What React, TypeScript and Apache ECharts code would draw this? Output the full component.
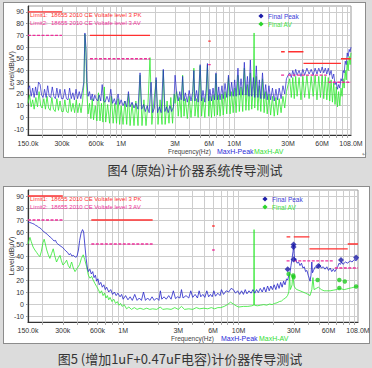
import React, { useEffect, useRef } from 'react';
import * as echarts from 'echarts';

// ---------- axes ----------
const xLabelValues = [0.15, 0.3, 0.6, 1, 3, 6, 10, 30, 60, 108];
const xLabelTexts = ['150.0k', '300k', '600k', '1M', '3M', '6M', '10M', '30M', '60M', '108.0M'];
const xGridValues = [0.2, 0.3, 0.4, 0.5, 0.6, 0.7, 0.8, 0.9, 1, 2, 3, 4, 5, 6, 7, 8, 9, 10, 20, 30, 40, 50, 60, 70, 80, 90, 100];
const yLabelValues = [-10, 0, 10, 20, 30, 40, 50, 60, 70, 80, 90];

// ---------- limits [fromMHz, toMHz, dBuV] ----------
const pkLimit = [[0.15, 0.3, 90], [0.53, 1.8, 70], [5.9, 6.2, 65], [26, 28, 56], [30, 41, 56], [41, 88, 46], [88, 108, 50]];
const avLimit = [[0.15, 0.3, 70], [0.53, 1.8, 50], [5.9, 6.2, 45], [26, 28, 36], [30, 66, 36], [68, 108, 30]];

// ---------- Fig 4 (original) ----------
const fig4Peak = [
  [0.150, 24], [0.155, 27], [0.160, 18], [0.165, 25], [0.170, 17], [0.175, 26], [0.180, 19], [0.186, 30], [0.192, 28], [0.198, 19],
  [0.204, 17], [0.210, 24], [0.217, 17], [0.224, 27], [0.231, 18], [0.238, 17], [0.246, 26], [0.254, 18], [0.262, 16], [0.270, 25],
  [0.279, 17], [0.288, 24], [0.297, 16], [0.307, 16], [0.317, 24], [0.328, 16], [0.339, 15], [0.350, 25], [0.362, 16], [0.374, 21],
  [0.386, 15], [0.399, 24], [0.412, 16], [0.426, 22], [0.440, 16], [0.455, 23], [0.468, 30], [0.478, 72], [0.488, 60], [0.498, 30],
  [0.510, 18], [0.525, 22], [0.540, 15], [0.555, 20], [0.570, 14], [0.585, 19],
  [0.60, 16], [0.62, 14], [0.64, 19], [0.66, 14], [0.68, 28], [0.70, 14], [0.72, 13], [0.75, 18], [0.78, 13], [0.81, 24],
  [0.84, 12], [0.87, 16], [0.90, 11], [0.94, 20], [0.97, 11], [1.00, 15], [1.04, 10], [1.08, 14], [1.12, 9], [1.16, 22],
  [1.20, 9], [1.25, 13], [1.30, 8], [1.35, 12], [1.41, 7], [1.47, 38], [1.52, 7], [1.58, 11], [1.64, 5], [1.70, 10],
  [1.77, 4], [1.84, 30], [1.90, 4], [1.97, 8], [2.04, 34], [2.10, 4], [2.18, 9], [2.26, 4], [2.36, 41], [2.44, 5],
  [2.52, 9], [2.61, 4], [2.70, 10], [2.80, 5], [2.90, 9], [2.95, 20], [3.0, 36],
  [3.1, 21], [3.2, 14], [3.3, 22], [3.4, 15], [3.5, 35], [3.6, 14], [3.7, 21], [3.85, 13], [4.0, 23], [4.15, 14],
  [4.3, 22], [4.4, 40], [4.5, 14], [4.65, 23], [4.8, 13], [5.0, 45], [5.15, 14], [5.3, 23], [5.5, 13], [5.65, 24],
  [5.8, 46], [5.95, 14], [6.1, 24], [6.3, 14], [6.5, 25], [6.7, 15], [6.9, 38], [7.1, 15], [7.3, 26], [7.5, 15],
  [7.8, 27], [8.0, 16], [8.3, 29], [8.6, 17], [8.9, 36], [9.2, 18], [9.5, 30], [9.8, 18], [10.1, 32], [10.4, 18],
  [10.8, 42], [11.1, 19], [11.5, 33], [11.9, 19], [12.3, 47], [12.7, 19], [13.1, 35], [13.5, 18], [13.9, 49], [14.3, 18],
  [14.8, 34], [15.2, 17], [15.7, 44], [16.2, 17], [16.7, 32], [17.2, 16], [17.8, 38], [18.4, 16], [19.0, 28], [19.6, 15],
  [20.3, 27], [21.0, 15], [21.8, 25], [22.6, 14], [23.4, 24], [24.2, 15], [25.0, 25], [26.0, 16], [27.0, 27], [28.0, 20],
  [29.0, 33], [30.0, 36],
  [31, 38], [32, 34], [33, 40], [34, 35], [35, 41], [36, 36], [37.5, 40], [39, 35], [40.5, 41], [42, 36],
  [44, 42], [46, 37], [48, 41], [50, 36], [52, 42], [54, 37], [56, 42], [58, 38], [60, 43], [62, 38],
  [64, 42], [66, 37], [68, 42], [70, 36], [72, 40], [74, 33], [76, 37], [78, 28], [80, 30], [82, 24],
  [84, 28], [86, 25], [88, 33], [90, 31], [92, 40], [94, 38], [96, 48], [98, 45], [100, 55], [102, 52],
  [104, 58], [106, 56], [108, 60]
];
const fig4Avg = [
  [0.150, 12], [0.155, 19], [0.160, 9], [0.165, 15], [0.170, 7], [0.176, 17], [0.182, 9], [0.188, 22], [0.194, 10], [0.200, 8],
  [0.207, 16], [0.214, 7], [0.221, 18], [0.228, 8], [0.236, 6], [0.244, 17], [0.252, 7], [0.261, 5], [0.270, 16], [0.279, 6],
  [0.288, 14], [0.298, 5], [0.308, 5], [0.318, 15], [0.329, 5], [0.340, 4], [0.351, 16], [0.363, 5], [0.375, 12], [0.388, 4],
  [0.401, 15], [0.414, 4], [0.428, 12], [0.442, 4], [0.456, 14], [0.468, 28], [0.478, 71], [0.488, 55], [0.498, 20], [0.510, 3],
  [0.525, 12], [0.54, -1], [0.555, 16], [0.57, -2], [0.59, 10], [0.61, -3], [0.63, 21], [0.65, -3], [0.67, 12], [0.69, -4],
  [0.71, 26], [0.73, -4], [0.76, 11], [0.79, -5], [0.82, 18], [0.85, -5], [0.88, 12], [0.91, -5], [0.94, 16], [0.97, -6],
  [1.00, 10], [1.04, -6], [1.08, 14], [1.12, -6], [1.16, 20], [1.20, -7], [1.25, 12], [1.30, -7], [1.35, 14], [1.41, -7],
  [1.47, 36], [1.53, -7], [1.59, 15], [1.66, -7], [1.73, 13], [1.80, 51], [1.87, -6], [1.95, 14], [2.04, 32], [2.12, -6],
  [2.21, 15], [2.30, -6], [2.36, 40], [2.45, -6], [2.55, 14], [2.65, -5], [2.75, 17], [2.85, -5], [2.95, 20], [3.0, 12],
  [3.1, 22], [3.2, 1], [3.3, 17], [3.4, 0], [3.5, 36], [3.6, 1], [3.7, 16], [3.85, -1], [4.0, 18], [4.15, 0],
  [4.3, 17], [4.4, 42], [4.5, 1], [4.65, 16], [4.8, 0], [5.0, 44], [5.15, 1], [5.3, 17], [5.5, 0], [5.65, 18],
  [5.8, 45], [5.95, 1], [6.1, 18], [6.3, 0], [6.5, 19], [6.7, 1], [6.9, 37], [7.1, 2], [7.3, 19], [7.5, 1],
  [7.8, 20], [8.0, 2], [8.3, 22], [8.6, 3], [8.9, 34], [9.2, 3], [9.5, 22], [9.8, 4], [10.1, 25], [10.4, 4],
  [10.8, 36], [11.1, 5], [11.5, 26], [11.9, 5], [12.3, 42], [12.7, 6], [13.1, 28], [13.5, 6], [13.9, 38], [14.3, 7],
  [14.8, 26], [15.0, 72], [15.2, 8], [15.7, 35], [16.2, 6], [16.7, 27], [17.2, 5], [17.8, 33], [18.4, 4], [19.0, 22],
  [19.6, 3], [20.3, 20], [21.0, 2], [21.8, 18], [22.6, 1], [23.4, 17], [24.2, 2], [25.0, 16], [26.0, 4], [27.0, 18],
  [28.0, 8], [29.0, 22], [30.0, 28],
  [31, 33], [32, 17], [33, 34], [34, 16], [35, 35], [36, 18], [37.5, 34], [39, 15], [40.5, 35], [42, 17],
  [44, 36], [46, 16], [48, 35], [50, 18], [52, 36], [54, 15], [56, 35], [58, 17], [60, 36], [62, 16],
  [64, 35], [66, 15], [68, 34], [70, 14], [72, 32], [74, 13], [76, 30], [78, 11], [80, 26], [82, 9],
  [84, 22], [86, 10], [88, 25], [90, 18], [92, 33], [94, 25], [96, 40], [98, 32], [100, 48], [102, 40],
  [104, 52], [106, 45], [108, 55]
];

// ---------- Fig 5 (with 1uF + 0.47uF) ----------
const fig5Peak = [
  [0.150, 68], [0.155, 68], [0.160, 67.5], [0.165, 67], [0.170, 66.5], [0.175, 65.5], [0.180, 65], [0.185, 64], [0.190, 63.5], [0.195, 62.5],
  [0.200, 61.5], [0.207, 60], [0.214, 59], [0.221, 58], [0.228, 56.5], [0.236, 55.5], [0.244, 54], [0.252, 52.5], [0.260, 53], [0.265, 51],
  [0.272, 50], [0.280, 49], [0.290, 48], [0.300, 47], [0.310, 45.5], [0.320, 44], [0.330, 43], [0.340, 41], [0.350, 42], [0.360, 40],
  [0.372, 40.5], [0.385, 39], [0.398, 39.5], [0.410, 45], [0.420, 53], [0.432, 59], [0.445, 62], [0.455, 60], [0.465, 50], [0.478, 38],
  [0.490, 30], [0.500, 27], [0.515, 29], [0.530, 25], [0.545, 27], [0.56, 22], [0.575, 24], [0.59, 19], [0.605, 21], [0.62, 16],
  [0.64, 18], [0.66, 14], [0.68, 16], [0.70, 12], [0.72, 14], [0.75, 10], [0.78, 12], [0.81, 8], [0.84, 10], [0.87, 7],
  [0.90, 9], [0.94, 6], [0.97, 8], [1.0, 4], [1.05, 7], [1.1, 3.5], [1.15, 6], [1.2, 3], [1.26, 8], [1.32, 3],
  [1.38, 5], [1.44, 3], [1.5, 10], [1.56, 3], [1.63, 5], [1.7, 3], [1.78, 6], [1.86, 3], [1.95, 5], [2.04, 3],
  [2.1, 11], [2.16, 4], [2.26, 6], [2.36, 4], [2.48, 7], [2.6, 4], [2.72, 11], [2.84, 4.5], [2.96, 6], [3.1, 5],
  [3.2, 12], [3.3, 5], [3.5, 7], [3.7, 5], [3.85, 11], [4.0, 5.5], [4.2, 8], [4.4, 5], [4.55, 11], [4.7, 6],
  [4.9, 8], [5.1, 5.5], [5.3, 11], [5.5, 6], [5.7, 8], [5.9, 6], [6.1, 11], [6.3, 6.5], [6.6, 9], [6.9, 7],
  [7.1, 12], [7.4, 8], [7.8, 11], [8.2, 10], [8.6, 13], [9.0, 12], [9.4, 9], [9.8, 11], [10.2, 8], [10.6, 11],
  [11.0, 8], [11.4, 12], [11.8, 8.5], [12.3, 11], [12.8, 9], [13.3, 12], [13.8, 9], [14.3, 12], [14.8, 9.5], [15.4, 13],
  [16.0, 10], [16.6, 14], [17.2, 10], [17.8, 15], [18.4, 11], [19.0, 15], [19.6, 12], [20.3, 16], [21.0, 12], [21.7, 17],
  [22.4, 13], [23.1, 18], [23.8, 14], [24.5, 19], [25.2, 16], [26.0, 21], [26.6, 20], [27.2, 24], [27.8, 26], [28.4, 32],
  [29.0, 38], [29.6, 44], [29.9, 50], [30.2, 42], [30.6, 36], [31.2, 38], [32, 34], [33, 35], [34, 32], [35, 34],
  [36, 30], [37, 31], [38, 27], [39, 28], [40, 24], [41, 21], [41.5, 19], [42.3, 24], [43, 35], [43.6, 26],
  [44.5, 28], [46, 31], [48, 30], [50, 33], [52, 30], [54, 31], [56, 29], [58, 31], [60, 28], [62, 30],
  [64, 27], [66, 29], [68, 27], [70, 29], [72, 31], [74, 34], [76, 33], [78, 35], [80, 33], [84, 35],
  [88, 34], [92, 36], [96, 35], [100, 37], [104, 36], [108, 38]
];
const fig5Avg = [
  [0.150, 50], [0.153, 53], [0.156, 55.5], [0.160, 52], [0.166, 47.5], [0.172, 45], [0.178, 43], [0.184, 41], [0.190, 39.5], [0.196, 44],
  [0.202, 51], [0.207, 54], [0.212, 50], [0.218, 45], [0.225, 41], [0.232, 38], [0.240, 42], [0.248, 46], [0.256, 40], [0.265, 35],
  [0.274, 38], [0.284, 40.5], [0.292, 36], [0.301, 32.5], [0.312, 34], [0.324, 36.5], [0.335, 32], [0.346, 30], [0.352, 33], [0.358, 35],
  [0.370, 30], [0.383, 27], [0.395, 29], [0.408, 31], [0.420, 33], [0.435, 38], [0.451, 41], [0.465, 37], [0.483, 31], [0.5, 24],
  [0.516, 21.5], [0.533, 23], [0.55, 20], [0.57, 17], [0.59, 14.5], [0.61, 12], [0.63, 9], [0.65, 11], [0.67, 7], [0.69, 9],
  [0.71, 5], [0.73, 7], [0.75, 3.5], [0.77, 5.5], [0.8, 2], [0.83, 4], [0.86, 0.5], [0.89, 2], [0.92, -1], [0.95, 0.5],
  [0.98, -2], [1.02, -0.5], [1.07, -4], [1.12, -2.5], [1.18, -4.5], [1.25, -3], [1.32, -4.5], [1.4, -3.5], [1.5, -4.5], [1.6, -3.5],
  [1.7, -4.5], [1.8, -4], [1.95, -4.5], [2.1, -2.5], [2.2, -4.5], [2.4, -4], [2.6, -4.5], [2.8, -3], [3.0, -4.5], [3.2, -2],
  [3.4, -4.5], [3.7, -4], [4.0, -4.5], [4.3, -3], [4.6, -4], [5.0, -3.5], [5.4, -4], [5.8, -3], [6.2, -4], [6.6, -3],
  [7.0, -3], [7.5, -2], [8.0, -0.5], [8.5, 1.5], [9.0, 0], [9.5, -1.5], [10.0, -2.5], [11, -2], [12, -2], [13, -1.5],
  [13.5, -1], [13.6, 62], [13.7, -1], [14.5, -1.5], [15.5, -1], [16.5, -0.5], [17.5, -1], [18.5, 0], [19.5, -0.5], [20.5, 0.5],
  [21.5, 1], [22.5, 2], [23.5, 2.5], [24.5, 4], [25.5, 5], [26.5, 7], [27.2, 10], [27.6, 25], [28.0, 12], [28.6, 14],
  [29.0, 16], [29.4, 24], [29.8, 20], [30.2, 15], [31, 13], [32, 12], [34, 11], [36, 10], [38, 9], [40, 8],
  [41.5, 7], [43, 12], [44, 22], [45, 12], [47, 13], [49, 14], [52, 12], [55, 11], [58, 11], [62, 11],
  [66, 11.5], [70, 12], [74, 13], [78, 12.5], [82, 12], [86, 12.5], [90, 13], [95, 13.5], [100, 14], [104, 14.5],
  [108, 15]
];
const fig5PeakFinal = [[26.6, 29], [29.9, 49.5], [29.9, 47.5], [29.9, 37], [49, 31.6], [77, 36.6], [104, 38.8]];
const fig5AvgFinal = [[27.1, 25], [29.7, 23.7], [29.9, 22.4], [48.3, 20], [74.4, 20], [83, 18.8], [74.4, 13.3], [104, 14.6]];

const FONT = 'Liberation Sans, Arial, sans-serif';
const BLUE = '#2323c8';
const GREEN = '#2ee82e';
const RED = '#ff3030';
const MAGENTA = '#ee2f9a';

function fmtX(v: number) {
  let best = 0;
  let bd = Infinity;
  xLabelValues.forEach((lv, i) => {
    const d = Math.abs(Math.log(v / lv));
    if (d < bd) { bd = d; best = i; }
  });
  return xLabelTexts[best];
}

function xAxisCfg(gi: number) {
  return {
    type: 'log', logBase: 10, gridIndex: gi, min: 0.15, max: 108,
    axisLine: { show: true, onZero: false, lineStyle: { color: '#333', width: 1.2 } },
    axisTick: { show: true, length: 3, lineStyle: { color: '#aaa' }, customValues: xGridValues },
    axisLabel: { customValues: xLabelValues, formatter: fmtX, fontSize: 7, color: '#333', margin: 5, fontFamily: FONT, hideOverlap: false },
    splitLine: { show: true, lineStyle: { color: '#cdcdcd', width: 1 } },
  };
}
function yAxisCfg(gi: number) {
  return {
    type: 'value', gridIndex: gi, min: -15, max: 95,
    axisLine: { show: true, onZero: false, lineStyle: { color: '#333', width: 1.2 } },
    axisTick: { show: true, length: 2, lineStyle: { color: '#999' }, customValues: yLabelValues },
    axisLabel: { customValues: yLabelValues, fontSize: 7, color: '#333', margin: 4, fontFamily: FONT },
    splitLine: { show: true, lineStyle: { color: '#cdcdcd', width: 1 } },
    name: 'Level(dB\u03bcV)', nameLocation: 'middle', nameGap: 13, nameMoveOverlap: false,
    nameTextStyle: { fontSize: 7, color: '#333', fontFamily: FONT },
  };
}

function trace(data: number[][], gi: number, color: string, w: number, z: number) {
  return {
    type: 'line', xAxisIndex: gi, yAxisIndex: gi, data, symbol: 'none', showSymbol: false, silent: true,
    lineStyle: { color, width: w }, z,
  };
}
function limits(lim: number[][], gi: number, color: string, dashed: boolean) {
  return lim.map(([a, b, v]) => ({
    type: 'line', xAxisIndex: gi, yAxisIndex: gi, data: [[a, v], [b, v]], symbol: 'none', silent: true,
    lineStyle: { color, width: 1.3, type: dashed ? [3, 1.5] : 'solid' }, z: 6,
  }));
}

function diamond(cx: number, cy: number, r: number, fill: string) {
  return { type: 'polygon', shape: { points: [[cx, cy - r], [cx + r, cy], [cx, cy + r], [cx - r, cy]] }, style: { fill }, z: 20 };
}
function txt(x: number, y: number, text: string, fill: string, size: number, extra: any = {}) {
  return { type: 'text', x, y, z: 20, style: { text, fill, font: `${size}px ${FONT}`, lineHeight: size, textVerticalAlign: 'middle', ...extra } };
}

function panelTexts(yLim: number, xLeg: number, yLeg: number, yFreq: number, xF: number[]) {
  return [
    txt(30, yLim, 'Limit1:  18655 2010 CE Voltafe level 3 PK', RED, 6),
    txt(30, yLim + 8, 'Limit2:  18655 2010 CE Voltafe level 3 AV', MAGENTA, 6),
    diamond(xLeg, yLeg, 2.6, '#1c1ca8'),
    txt(xLeg + 7, yLeg, 'Final Peak', '#3a3ad8', 6.5),
    diamond(xLeg, yLeg + 8, 2.6, '#2cd62c'),
    txt(xLeg + 7, yLeg + 8, 'Final AV', '#44e044', 6.5),
    txt(xF[0], yFreq, 'Frequency(Hz)', '#444', 6.5),
    txt(xF[1], yFreq, 'MaxH-Peak', '#2b2bd8', 7),
    txt(xF[2], yFreq, 'MaxH-AV', '#33dd33', 7),
  ];
}

export default function App() {
  const ref = useRef<HTMLDivElement>(null);
  useEffect(() => {
    document.body.style.margin = '0';
    const chart = echarts.init(ref.current!, null, { renderer: 'svg', width: 372, height: 368 });
    const option: any = {
      animation: false,
      backgroundColor: 'transparent',
      grid: [
        { left: 28, top: 6, width: 323, height: 129, show: true, backgroundColor: '#fff', borderColor: '#999', borderWidth: 1, containLabel: false, outerBoundsMode: 'none' },
        { left: 28, top: 190, width: 330, height: 132, show: true, backgroundColor: '#fff', borderColor: '#999', borderWidth: 1, containLabel: false, outerBoundsMode: 'none' },
      ],
      xAxis: [xAxisCfg(0), xAxisCfg(1)],
      yAxis: [yAxisCfg(0), yAxisCfg(1)],
      series: [
        trace(fig4Avg, 0, GREEN, 0.8, 3),
        trace(fig4Peak, 0, BLUE, 0.7, 4),
        trace(fig5Avg, 1, GREEN, 0.8, 3),
        trace(fig5Peak, 1, BLUE, 0.8, 4),
        ...limits(pkLimit, 0, RED, false),
        ...limits(avLimit, 0, MAGENTA, true),
        ...limits(pkLimit, 1, RED, false),
        ...limits(avLimit, 1, MAGENTA, true),
        {
          type: 'scatter', xAxisIndex: 1, yAxisIndex: 1, data: fig5PeakFinal, symbol: 'diamond', symbolSize: 6,
          itemStyle: { color: '#1c1ca8' }, z: 8, silent: true,
        },
        {
          type: 'scatter', xAxisIndex: 1, yAxisIndex: 1, data: fig5AvgFinal, symbol: 'circle', symbolSize: 4.5,
          itemStyle: { color: '#22cc22' }, z: 8, silent: true,
        },
      ],
      graphic: [
        ...panelTexts(15, 261, 16, 151, [168, 217, 254]),
        ...panelTexts(199, 265, 199, 338, [171, 221, 259]),
        txt(362, 154, '\u21b5', '#888', 6),
        {
          type: 'text', x: 195, y: 169, z: 20,
          style: { text: '图4 (原始)计价器系统传导测试', fill: '#353535', font: '13px "Noto Sans CJK SC"', textAlign: 'center', textVerticalAlign: 'middle' },
        },
        {
          type: 'text', x: 180, y: 358, z: 20,
          style: { text: '图5 (增加1uF+0.47uF电容)计价器传导测试', fill: '#353535', font: '13px "Noto Sans CJK SC"', textAlign: 'center', textVerticalAlign: 'middle' },
        },
      ],
    };
    chart.setOption(option);
    return () => chart.dispose();
  }, []);
  return (
    <div style={{ position: 'relative', width: 372, height: 368, background: '#dcdcdc', overflow: 'hidden' }}>
      <div style={{ position: 'absolute', left: 3, top: 2, width: 361, height: 154, background: '#fff', border: '1px solid #8c8c8c' }} />
      <div style={{ position: 'absolute', left: 3, top: 186, width: 365, height: 156, background: '#fff', border: '1px solid #8c8c8c' }} />
      <div ref={ref} style={{ position: 'absolute', left: 0, top: 0, width: 372, height: 368 }} />
    </div>
  );
}
